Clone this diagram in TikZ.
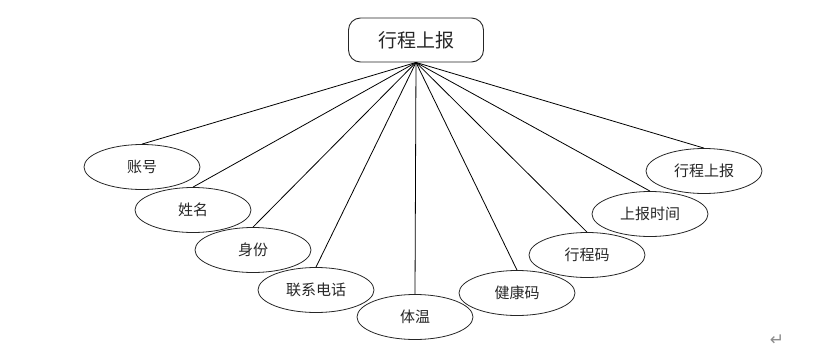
\documentclass[tikz,border=0pt]{standalone}
\usepackage{fontspec}
\newfontfamily\cjk{Noto Sans CJK SC}
\newfontfamily\symfont{DejaVu Sans}
\usetikzlibrary{shapes.geometric}
\definecolor{attrdark}{HTML}{262626}
\definecolor{markgray}{HTML}{8C8C8C}

\begin{document}
\begin{tikzpicture}[
    x=1pt, y=-1pt,
    entity/.style={draw=attrdark, line width=0.9pt, rounded corners=12pt,
        minimum width=135pt, minimum height=44pt, inner sep=0pt,
        font=\cjk\fontsize{19}{19}\selectfont, text=attrdark},
    attr/.style={ellipse, draw=attrdark, line width=0.8pt,
        minimum width=116pt, minimum height=45pt, inner sep=0pt,
        font=\cjk\fontsize{15}{15}\selectfont, text=attrdark},
    link/.style={line width=0.8pt, black}
]

% Canvas
\useasboundingbox (0,0) rectangle (815,351);

% Entity
\node[entity] (trip) at (416,40) {行程上报};

% Attributes
\node[attr] (account) at (142,167) {账号};
\node[attr] (name)    at (193,210) {姓名};
\node[attr] (idcard)  at (253,250) {身份};
\node[attr] (phone)   at (316,290) {联系电话};
\node[attr] (temp)    at (415,317) {体温};
\node[attr] (health)  at (517,293) {健康码};
\node[attr] (tripcode) at (587,255) {行程码};
\node[attr] (rtime)   at (650,214) {上报时间};
\node[attr] (rtrip)   at (704,171) {行程上报};

% Links
\foreach \a in {account, name, idcard, phone, temp, health, tripcode, rtime, rtrip}
    \draw[link] (trip.south) -- (\a.north);

% Paragraph mark
\node[font=\symfont\fontsize{17}{17}\selectfont, text=markgray] (para) at (777,340) {↵};

\end{tikzpicture}
\end{document}
